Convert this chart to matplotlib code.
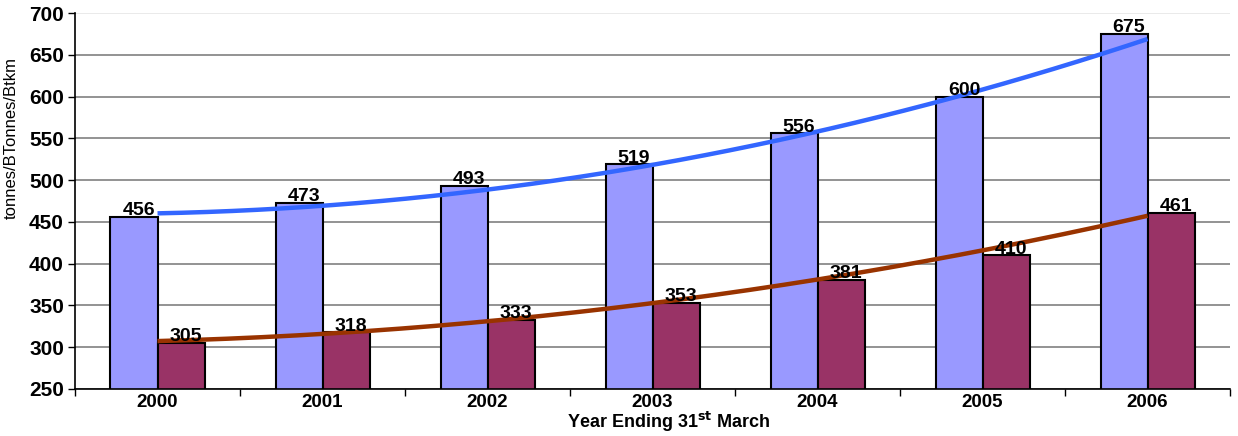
import numpy as np
import matplotlib.pyplot as plt

years = ['2000', '2001', '2002', '2003', '2004', '2005', '2006']
series_a = [456, 473, 493, 519, 556, 600, 675]
series_b = [305, 318, 333, 353, 381, 410, 461]

plt.rcParams['font.family'] = ['Liberation Sans', 'DejaVu Sans']

fig = plt.figure(figsize=(12.38, 4.36), dpi=100)
ax = fig.add_axes([0.0606, 0.108, 0.933, 0.862])

x = np.arange(len(years))
w = 0.285
ax.bar(x - w / 2, series_a, w, color='#9999FF', edgecolor='black', linewidth=1.5, zorder=2)
ax.bar(x + w / 2, series_b, w, color='#993366', edgecolor='black', linewidth=1.5, zorder=2)

# trend lines (2nd order polynomial fit)
xs = np.linspace(0, len(years) - 1, 200)
fa = np.polyfit(x, series_a, 2)
fb = np.polyfit(x, series_b, 2)
ax.plot(xs, np.polyval(fa, xs), color='#3366FF', lw=3.2, zorder=3, solid_capstyle='butt')
ax.plot(xs, np.polyval(fb, xs), color='#993300', lw=3.2, zorder=3, solid_capstyle='butt')

for i in range(len(years)):
    ax.text(x[i] - w / 2 + 0.03, series_a[i] - 3, str(series_a[i]), ha='center', va='bottom',
            fontsize=14, fontweight='bold', zorder=4)
    ax.text(x[i] + w / 2 + 0.03, series_b[i] - 3, str(series_b[i]), ha='center', va='bottom',
            fontsize=14, fontweight='bold', zorder=4)

ax.set_ylim(250, 700)
ax.set_xlim(-0.5, len(years) - 0.5)
ax.set_yticks(range(250, 701, 50))
ax.set_xticks(x)
ax.set_xticklabels(years, fontsize=13.5, fontweight='bold')
ax.set_xticks(np.arange(-0.5, len(years), 1), minor=True)
ax.tick_params(axis='x', which='major', length=0, pad=4)
ax.tick_params(axis='x', which='minor', length=5, width=1)
ax.tick_params(axis='y', length=5, width=1, pad=3)
for lab in ax.get_yticklabels():
    lab.set_fontsize(15)
    lab.set_fontweight('bold')

ax.grid(axis='y', color='#808080', lw=1.2, zorder=0)
ax.get_ygridlines()[-1].set_color('#e6e6e6')
ax.spines['top'].set_visible(False)
ax.spines['right'].set_visible(False)
ax.spines['left'].set_linewidth(1.2)
ax.spines['bottom'].set_linewidth(1.2)

ax.set_ylabel('tonnes/BTonnes/Btkm', fontsize=12)
ax.yaxis.set_label_coords(-0.0485, 0.667)
fig.text(0.54, 0.004, r'Year Ending 31$^{\mathbf{st}}$ March', fontsize=13, fontweight='bold',
         ha='center', va='bottom')

fig.savefig('out.png', dpi=100)
